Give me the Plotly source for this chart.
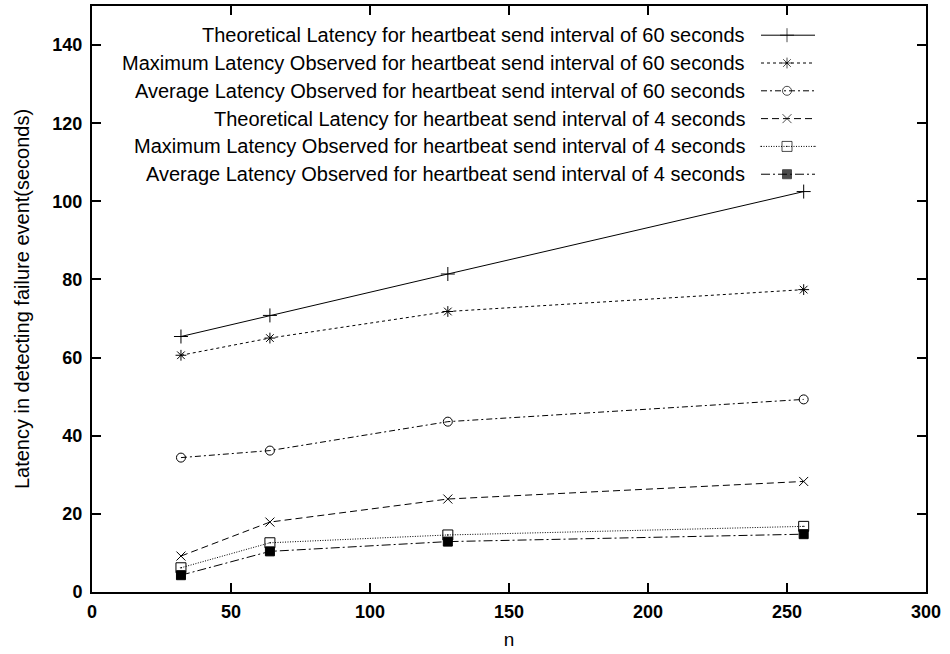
import plotly.graph_objects as go

n_values = [32, 64, 128, 256]

theo_60 = [65.4, 70.8, 81.4, 102.5]
max_60 = [60.6, 65.0, 71.8, 77.4]
avg_60 = [34.4, 36.2, 43.6, 49.3]
theo_4 = [9.2, 17.9, 23.8, 28.3]
max_4 = [6.2, 12.6, 14.6, 16.8]
avg_4 = [4.3, 10.4, 12.9, 14.8]

series_names = [
    "Theoretical Latency for heartbeat send interval of 60 seconds",
    "Maximum Latency Observed for heartbeat send interval of 60 seconds",
    "Average Latency Observed for heartbeat send interval of 60 seconds",
    "Theoretical Latency for heartbeat send interval of 4 seconds",
    "Maximum Latency Observed for heartbeat send interval of 4 seconds",
    "Average Latency Observed for heartbeat send interval of 4 seconds",
]
series_values = [theo_60, max_60, avg_60, theo_4, max_4, avg_4]

x_ticks = [0, 50, 100, 150, 200, 250, 300]
y_ticks = [0, 20, 40, 60, 80, 100, 120, 140]

styles = [
    dict(dash="solid", symbol="cross-thin-open", size=10),
    dict(dash="3px,3px", symbol="asterisk-open", size=9),
    dict(dash="6px,3px,2px,3px", symbol="circle-open", size=9),
    dict(dash="7px,4px", symbol="x-thin-open", size=9),
    dict(dash="1px,1.5px", symbol="square-open-dot", size=10),
    dict(dash="9px,3px,2px,3px", symbol="square", size=9),
]

FONT = "Liberation Sans, Arial, Helvetica, sans-serif"

fig = go.Figure()
for name, vals, st in zip(series_names, series_values, styles):
    fig.add_trace(go.Scatter(
        x=n_values, y=vals, mode="lines+markers", name=name,
        line=dict(color="black", width=1, dash=st["dash"]),
        marker=dict(symbol=st["symbol"], size=st["size"], color="black",
                    line=dict(color="black", width=1)),
        showlegend=False,
    ))

# manual gnuplot-style key (text right, sample to the right)
W, H = 834.0, 588.0
text_right = (747 - 92) / W
s0, sm, s1 = (761 - 92) / W, (787 - 92) / W, (815 - 92) / W
rows_px = [33.3, 61.2, 89.1, 117.0, 144.9, 172.8]
for name, st, ry in zip(series_names, styles, rows_px):
    yf = (592 - ry) / H
    fig.add_annotation(x=text_right, y=yf, xref="paper", yref="paper",
                       text=name, showarrow=False, xanchor="right", yanchor="middle",
                       font=dict(family=FONT, size=20, color="black"))
    fig.add_trace(go.Scatter(
        x=[s0, sm, s1], y=[yf, yf, yf], xaxis="x2", yaxis="y2",
        mode="lines+markers", showlegend=False, hoverinfo="skip",
        line=dict(color="black", width=1, dash=st["dash"]),
        marker=dict(symbol=st["symbol"], size=[0, st["size"], 0], color="black",
                    line=dict(color="black", width=1)),
    ))

axis_common = dict(
    showgrid=False, zeroline=False, showline=True, linecolor="black", linewidth=2,
    mirror="allticks", ticks="inside", ticklen=9, tickwidth=1.5, tickcolor="black",
    tickfont=dict(family=FONT, size=18, color="black", weight="bold"),
)

fig.update_layout(
    width=950, height=654,
    margin=dict(l=92, r=24, t=4, b=62),
    paper_bgcolor="white", plot_bgcolor="white",
    font=dict(family=FONT, color="black"),
    xaxis=dict(range=[0, 300], tickvals=x_ticks, ticklabelstandoff=2,
               title=dict(text="n", font=dict(family=FONT, size=19, color="black"), standoff=12),
               **axis_common),
    yaxis=dict(range=[0, 150], tickvals=y_ticks, ticklabelstandoff=4,
               title=dict(text="Latency in detecting failure event(seconds)",
                          font=dict(family=FONT, size=20, color="black"), standoff=17),
               **axis_common),
    xaxis2=dict(range=[0, 1], overlaying="x", visible=False, fixedrange=True),
    yaxis2=dict(range=[0, 1], overlaying="y", visible=False, fixedrange=True),
)

fig.write_html("out.html", config={"displayModeBar": False},
               post_script="document.body.style.margin='0';")
